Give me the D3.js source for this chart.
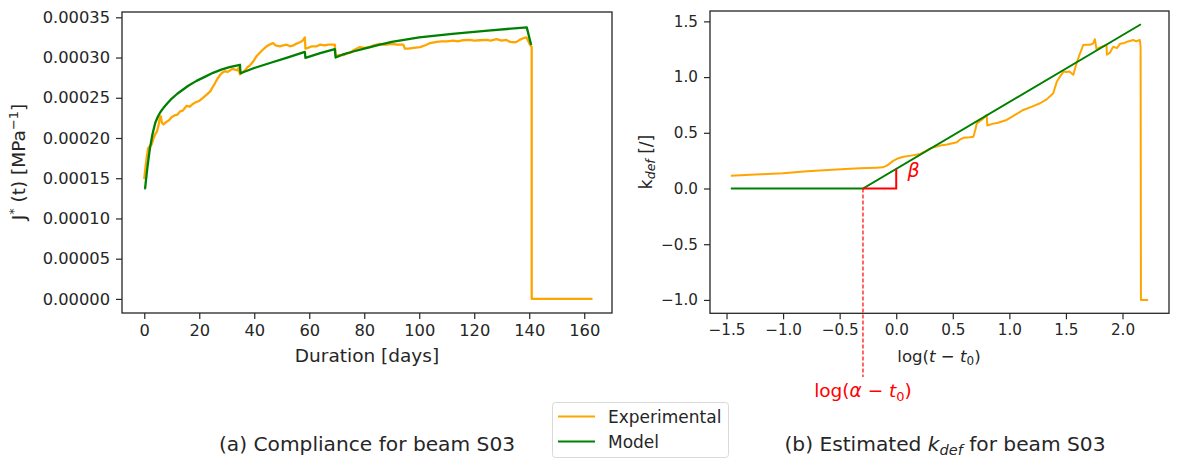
<!DOCTYPE html>
<html><head><meta charset="utf-8">
<script src="https://cdn.jsdelivr.net/npm/d3@7/dist/d3.min.js"></script>
<style>
body{margin:0;background:#fff;}
text{font-family:"DejaVu Sans",sans-serif;fill:#262626;}
</style></head>
<body><svg id="c" width="1203" height="461"></svg>
<script>
// ---------- data (left panel: compliance, values in 1e-5 MPa^-1) ----------
const expT = [0,0.2,0.5,0.9,1.4,2.0,2.7,3.3,4.0,4.6,5.2,5.7,6.0,6.4,7.0,8.0,9.0,10.0,11.0,12.0,13.0,14.0,15.4,16.6,17.5,19.0,20.0,21.0,22.7,24.0,25.0,25.7,26.5,27.5,28.3,29.3,30.2,31.2,32.0,33.0,33.8,34.3,34.8,35.5,36.6,37.5,38.4,39.6,40.9,42.0,43.2,44.5,45.5,46.9,47.8,49.3,50.5,51.8,53.0,54.2,55.2,56.6,57.6,58.4,58.6,59.5,61.0,62.7,64.0,65.5,67.0,68.2,69.3,69.6,71.0,72.5,73.6,75.0,76.0,77.2,78.4,80.0,82.0,83.3,84.5,85.7,87.0,88.1,90.0,92.0,94.2,94.8,96.0,98.0,100.3,102.0,104.0,106.3,108.0,110.0,112.4,114.0,116.0,118.4,120.0,122.0,124.5,126.0,128.1,130.0,131.5,133.0,134.5,135.4,136.5,137.8,139.0,139.6,140.3,140.9,140.9,163];
const expJ = [14.9,15.6,16.5,17.6,18.7,19.0,19.2,19.9,20.5,20.8,21.6,22.6,22.7,21.9,21.7,22.0,22.2,22.6,22.8,22.9,23.3,23.4,24.0,23.9,24.2,24.5,24.6,24.9,25.4,25.8,26.4,26.8,27.3,27.8,28.1,28.3,28.2,28.4,28.6,28.5,28.4,28.7,27.9,28.1,28.4,28.8,29.0,29.5,30.2,30.6,31.0,31.4,31.6,31.8,31.5,31.4,31.5,31.6,31.4,31.5,31.7,31.9,32.1,32.5,31.1,31.2,31.4,31.4,31.6,31.5,31.6,31.6,31.6,30.2,30.3,30.3,30.5,30.6,30.9,31.1,31.3,31.2,31.3,31.5,31.6,31.7,31.6,31.6,31.7,31.6,31.6,31.1,31.1,31.2,31.3,31.5,31.8,31.95,32.0,32.0,32.1,32.0,32.15,32.2,32.1,32.15,32.2,32.1,32.3,32.1,32.2,31.95,31.9,31.95,32.2,32.4,32.5,32.1,31.6,31.3,0,0];
const modelT = [0,0.3,0.7,1.2,2.0,3.0,4.0,5.0,6.0,7.0,8.5,10.0,12.0,14.0,16.0,19.0,22.0,25.0,28.0,31.0,34.8,35.0,40.0,46.0,52.0,58.4,58.6,64.0,69.3,69.6,72.0,76.0,80.0,85.0,90.0,100.0,112.0,125.0,139.1,140.7];
const modelJ = [13.75,13.75,15.0,16.5,18.6,20.5,21.9,22.7,23.3,23.75,24.35,24.9,25.5,26.0,26.5,27.1,27.6,28.1,28.5,28.8,29.1,28.05,28.7,29.35,30.0,30.7,29.95,30.55,31.05,30.0,30.35,30.75,31.1,31.55,31.95,32.5,32.95,33.35,33.75,31.55];
const leftXTicks = [0,20,40,60,80,100,120,140,160];
const leftYTicks = [0,0.00005,0.0001,0.00015,0.0002,0.00025,0.0003,0.00035];

// ---------- data (right panel: k_def vs log(t - t0)) ----------
const kLogT = [-1.462,-1.2,-1.0,-0.788,-0.6,-0.45,-0.318,-0.25,-0.17,-0.12,-0.082,-0.024,0.02,0.064,0.13,0.212,0.26,0.3,0.388,0.45,0.536,0.565,0.594,0.65,0.682,0.7,0.712,0.76,0.8,0.805,0.85,0.9,0.976,1.05,1.123,1.2,1.271,1.33,1.388,1.42,1.447,1.48,1.506,1.53,1.565,1.594,1.62,1.653,1.68,1.712,1.74,1.756,1.77,1.81,1.859,1.862,1.89,1.918,1.95,1.98,2.006,2.05,2.094,2.12,2.153,2.16,2.163,2.227];
const kExp = [0.115,0.127,0.137,0.155,0.165,0.175,0.181,0.183,0.187,0.19,0.205,0.25,0.272,0.285,0.295,0.31,0.335,0.36,0.385,0.395,0.415,0.44,0.455,0.46,0.465,0.53,0.585,0.62,0.66,0.565,0.58,0.59,0.615,0.66,0.705,0.735,0.765,0.8,0.855,0.96,1.004,1.05,1.045,1.05,1.02,1.124,1.2,1.288,1.29,1.29,1.3,1.34,1.25,1.27,1.288,1.2,1.22,1.273,1.26,1.3,1.303,1.32,1.333,1.32,1.333,1.27,-1.0,-1.0];
const kModelLogT = [-1.462,-0.294,2.163];
const kModel = [0,0,1.474];
const logAlpha = -0.294;   // log(alpha - t0)
const rightXTicks = [-1.5,-1.0,-0.5,0.0,0.5,1.0,1.5,2.0];
const rightYTicks = [-1.0,-0.5,0.0,0.5,1.0,1.5];

const seriesNames = ["Experimental","Model"];
const seriesColors = ["#ffa500","#008000"];

// ---------- drawing ----------
const svg = d3.select("#c");

function panel(x0,x1,y0,y1,xdom,ydom,xt,yt,xfmt,yfmt,fs){
  const x = d3.scaleLinear().domain(xdom).range([x0,x1]);
  const y = d3.scaleLinear().domain(ydom).range([y1,y0]);
  const g = svg.append("g");
  const ax = g.append("g").attr("transform",`translate(0,${y1})`)
    .call(d3.axisBottom(x).tickValues(xt).tickFormat(xfmt).tickSizeOuter(0).tickSize(6).tickPadding(5));
  const ay = g.append("g").attr("transform",`translate(${x0},0)`)
    .call(d3.axisLeft(y).tickValues(yt).tickFormat(yfmt).tickSizeOuter(0).tickSize(6).tickPadding(6));
  [ax,ay].forEach(a=>{a.select(".domain").remove();a.selectAll("line").attr("stroke","#262626").attr("stroke-width",1.2);
    a.selectAll("text").attr("font-size",fs).attr("font-family","DejaVu Sans").attr("fill","#262626");});
  g.append("rect").attr("x",x0).attr("y",y0).attr("width",x1-x0).attr("height",y1-y0)
    .attr("fill","none").attr("stroke","#262626").attr("stroke-width",1.3);
  return {x,y,g};
}
const fmtMinus = f => v => f(v).replace("-","\u2212");

// left panel
const L = panel(122,612,12,313,[-8.1,170.1],[-0.0000175,0.0003566],leftXTicks,leftYTicks,
  d3.format("d"), d3.format(".5f"), 16.3);
const lineL = d3.line().x(d=>L.x(d[0])).y(d=>L.y(d[1]*1e-5));
L.g.append("path").datum(expT.map((t,i)=>[t,expJ[i]])).attr("d",lineL)
  .attr("fill","none").attr("stroke",seriesColors[0]).attr("stroke-width",2.3).attr("stroke-linejoin","round");
L.g.append("path").datum(modelT.map((t,i)=>[t,modelJ[i]])).attr("d",lineL)
  .attr("fill","none").attr("stroke",seriesColors[1]).attr("stroke-width",2.3).attr("stroke-linejoin","round");

// right panel
const R = panel(710,1169,11,313.3,[-1.646,2.411],[-1.12,1.593],rightXTicks,rightYTicks,
  fmtMinus(d3.format(".1f")), fmtMinus(d3.format(".1f")), 15.2);
const lineR = d3.line().x(d=>R.x(d[0])).y(d=>R.y(d[1]));
R.g.append("path").datum(kLogT.map((t,i)=>[t,kExp[i]])).attr("d",lineR)
  .attr("fill","none").attr("stroke",seriesColors[0]).attr("stroke-width",2).attr("stroke-linejoin","round");
R.g.append("path").datum(kModelLogT.map((t,i)=>[t,kModel[i]])).attr("d",lineR)
  .attr("fill","none").attr("stroke",seriesColors[1]).attr("stroke-width",2);
// red slope triangle
const slope = (kModel[2]-kModel[1])/(kModelLogT[2]-kModelLogT[1]);
R.g.append("path").datum([[logAlpha,0],[0,0],[0,slope*(0-logAlpha)]]).attr("d",lineR)
  .attr("fill","none").attr("stroke","red").attr("stroke-width",2);
R.g.append("line").attr("x1",R.x(logAlpha)).attr("x2",R.x(logAlpha)).attr("y1",R.y(0)).attr("y2",377)
  .attr("stroke","red").attr("stroke-width",1.2).attr("stroke-dasharray","4,2");
R.g.append("text").attr("x",R.x(0.1)).attr("y",R.y(0.1)).attr("font-size",19).attr("font-style","italic")
  .style("fill","red").text("\u03b2");
const la = R.g.append("text").attr("x",R.x(logAlpha)).attr("y",397).attr("text-anchor","middle")
  .attr("font-size",18.5).style("fill","red");
la.append("tspan").text("log(");
la.append("tspan").attr("font-style","italic").text("\u03b1");
la.append("tspan").text(" \u2212 ");
la.append("tspan").attr("font-style","italic").text("t");
la.append("tspan").attr("font-size",13).attr("dy",4).text("0");
la.append("tspan").attr("dy",-4).text(")");

// axis labels
svg.append("text").attr("x",367).attr("y",362).attr("text-anchor","middle").attr("font-size",18.5).text("Duration [days]");
const xl = svg.append("text").attr("x",939).attr("y",362).attr("text-anchor","middle").attr("font-size",16.6);
xl.append("tspan").text("log(");
xl.append("tspan").attr("font-style","italic").text("t");
xl.append("tspan").text(" \u2212 ");
xl.append("tspan").attr("font-style","italic").text("t");
xl.append("tspan").attr("font-size",12).attr("dy",3).text("0");
xl.append("tspan").attr("dy",-3).text(")");

const yl = svg.append("text").attr("transform","translate(25,162) rotate(-90)").attr("text-anchor","middle").attr("font-size",18.5);
yl.append("tspan").text("J");
yl.append("tspan").attr("font-size",13).attr("dy",-7).text("*");
yl.append("tspan").attr("dy",7).text(" (t) [MPa");
yl.append("tspan").attr("font-size",13).attr("dy",-7).text("\u22121");
yl.append("tspan").attr("dy",7).text("]");

const yr = svg.append("text").attr("transform","translate(652,162) rotate(-90)").attr("text-anchor","middle").attr("font-size",17);
yr.append("tspan").text("k");
yr.append("tspan").attr("font-size",12.5).attr("font-style","italic").attr("dy",3).text("def");
yr.append("tspan").attr("dy",-3).text(" [/]");

// legend
const lg = svg.append("g");
lg.append("rect").attr("x",552.5).attr("y",402.5).attr("width",176).attr("height",55).attr("rx",3)
  .attr("fill","#fff").attr("stroke","#d9d9d9").attr("stroke-width",1);
seriesNames.forEach((n,i)=>{
  const yy = 416.5 + i*25;
  lg.append("line").attr("x1",558).attr("x2",595).attr("y1",yy).attr("y2",yy).attr("stroke",seriesColors[i]).attr("stroke-width",2);
  lg.append("text").attr("x",608).attr("y",yy+6).attr("font-size",17).text(n);
});

// captions
svg.append("text").attr("x",367).attr("y",451).attr("text-anchor","middle").attr("font-size",20.2).text("(a) Compliance for beam S03");
const cb = svg.append("text").attr("x",945).attr("y",451).attr("text-anchor","middle").attr("font-size",20.2);
cb.append("tspan").text("(b) Estimated ");
cb.append("tspan").attr("font-style","italic").text("k");
cb.append("tspan").attr("font-style","italic").attr("font-size",14.5).attr("dy",4).text("def");
cb.append("tspan").attr("dy",-4).text(" for beam S03");
</script></body></html>
